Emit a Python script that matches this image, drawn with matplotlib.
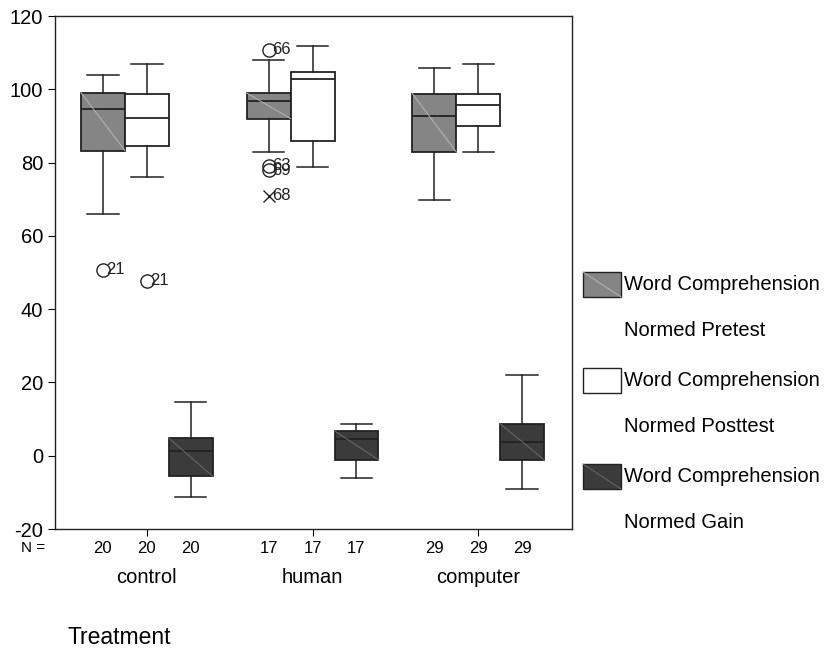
"""Boxplots of word comprehension scores by treatment group"""

import matplotlib

matplotlib.use("Agg")
import matplotlib.pyplot as plt
from matplotlib.patches import Rectangle
from matplotlib.lines import Line2D

groups = ["control", "human", "computer"]
group_n = [20, 17, 29]
series = ["Word Comprehension\n\nNormed Pretest",
          "Word Comprehension\n\nNormed Posttest",
          "Word Comprehension\n\nNormed Gain"]

# five-number summaries per series, one entry per group
pre_whislo = [66, 82.9, 69.7]
pre_q1 = [83.3, 92.0, 82.9]
pre_med = [94.7, 96.8, 92.6]
pre_q3 = [99.1, 99.0, 98.8]
pre_whishi = [103.8, 108.1, 105.9]

post_whislo = [76, 78.8, 82.9]
post_q1 = [84.5, 85.8, 89.9]
post_med = [92.3, 102.7, 95.8]
post_q3 = [98.8, 104.7, 98.8]
post_whishi = [106.8, 111.8, 106.8]

gain_whislo = [-11.2, -6.2, -9.1]
gain_q1 = [-5.6, -1.1, -1.1]
gain_med = [1.3, 4.7, 3.7]
gain_q3 = [4.8, 6.8, 8.7]
gain_whishi = [14.8, 8.7, 21.9]

# outliers: (group index, series index, value, case id, extreme?)
outlier_group = [0, 0, 1, 1, 1, 1]
outlier_series = [0, 1, 0, 0, 0, 0]
outlier_value = [50.8, 47.8, 110.8, 79.2, 77.9, 70.9]
outlier_case = ["21", "21", "66", "63", "69", "68"]
outlier_extreme = [False, False, False, False, False, True]

FILLS = ["#858585", "#ffffff", "#3b3b3b"]
DIAG = ["#b5b5b5", None, "#6a6a6a"]
EDGE = "#222222"
WIDTH = 0.265

plt.rcParams["font.family"] = ["Liberation Sans", "DejaVu Sans"]
plt.rcParams["axes.unicode_minus"] = False

fig = plt.figure(figsize=(8.25, 6.54), dpi=100)
ax = fig.add_axes([0.0667, 0.1911, 0.6267, 0.7844])

summaries = [
    (pre_whislo, pre_q1, pre_med, pre_q3, pre_whishi),
    (post_whislo, post_q1, post_med, post_q3, post_whishi),
    (gain_whislo, gain_q1, gain_med, gain_q3, gain_whishi),
]

for s, (lo, q1, med, q3, hi) in enumerate(summaries):
    stats = []
    positions = []
    for g in range(len(groups)):
        stats.append(dict(whislo=lo[g], q1=q1[g], med=med[g], q3=q3[g],
                          whishi=hi[g], fliers=[]))
        positions.append(g + 1 + (s - 1) * WIDTH)
    ax.bxp(stats, positions=positions, widths=WIDTH, showfliers=False,
           patch_artist=True, capwidths=0.19,
           boxprops=dict(facecolor=FILLS[s], edgecolor=EDGE, linewidth=1.3),
           medianprops=dict(color=EDGE, linewidth=1.3),
           whiskerprops=dict(color=EDGE, linewidth=1.1),
           capprops=dict(color=EDGE, linewidth=1.1))
    if DIAG[s]:
        for g, x in enumerate(positions):
            ax.plot([x - WIDTH / 2, x + WIDTH / 2], [q3[g], q1[g]],
                    color=DIAG[s], linewidth=0.7, zorder=2.5)

for g, s, v, case, extreme in zip(outlier_group, outlier_series,
                                  outlier_value, outlier_case,
                                  outlier_extreme):
    x = g + 1 + (s - 1) * WIDTH
    if extreme:
        ax.plot(x, v, marker="x", color=EDGE, markersize=8, mew=1.0)
    else:
        ax.plot(x, v, marker="o", mfc="none", mec=EDGE, markersize=9.5,
                mew=1.0)
    ax.text(x + 0.022, v, case, fontsize=12, va="center", ha="left",
            color=EDGE)

ax.set_xlim(0.446, 3.566)
ax.set_ylim(-20, 120)
ax.set_yticks(range(-20, 121, 20))
ax.set_xticks([1, 2, 3])
ax.set_xticklabels([])
ax.tick_params(axis="y", labelsize=14.5, length=5, direction="out")
ax.tick_params(axis="x", length=5, direction="out")
for sp in ax.spines.values():
    sp.set_linewidth(1.0)
    sp.set_color("#222222")

# case counts and group names below the axis
xt = ax.get_xaxis_transform()
for g, (name, n) in enumerate(zip(groups, group_n)):
    for s in range(3):
        ax.text(g + 1 + (s - 1) * WIDTH, -0.037, str(n), transform=xt,
                ha="center", va="center", fontsize=12)
    ax.text(g + 1, -0.094, name, transform=xt, ha="center", va="center",
            fontsize=14.5)
fig.text(33 / 825, 1 - 548 / 654, "N =", ha="center", va="center",
         fontsize=11)
fig.text(68 / 825, 1 - 637 / 654, "Treatment", ha="left", va="center",
         fontsize=16.5)


def px(x, y):
    return x / 825, 1 - y / 654


# legend drawn by hand so each label can span two lines
for s, label in enumerate(series):
    top = 272 + s * 96
    x0, y0 = px(583, top + 25)
    w, h = 38 / 825, 25 / 654
    fig.add_artist(Rectangle((x0, y0), w, h, facecolor=FILLS[s],
                             edgecolor=EDGE, linewidth=1.0,
                             transform=fig.transFigure))
    if DIAG[s]:
        fig.add_artist(Line2D([x0, x0 + w], [y0 + h, y0], color=DIAG[s],
                              linewidth=0.7, transform=fig.transFigure))
    first, _, second = label.split("\n")
    tx, ty = px(624, top + 13)
    fig.text(tx, ty, first, ha="left", va="center", fontsize=14.5)
    tx, ty = px(624, top + 58)
    fig.text(tx, ty, second, ha="left", va="center", fontsize=14.5)

fig.savefig("out.png", dpi=100)
